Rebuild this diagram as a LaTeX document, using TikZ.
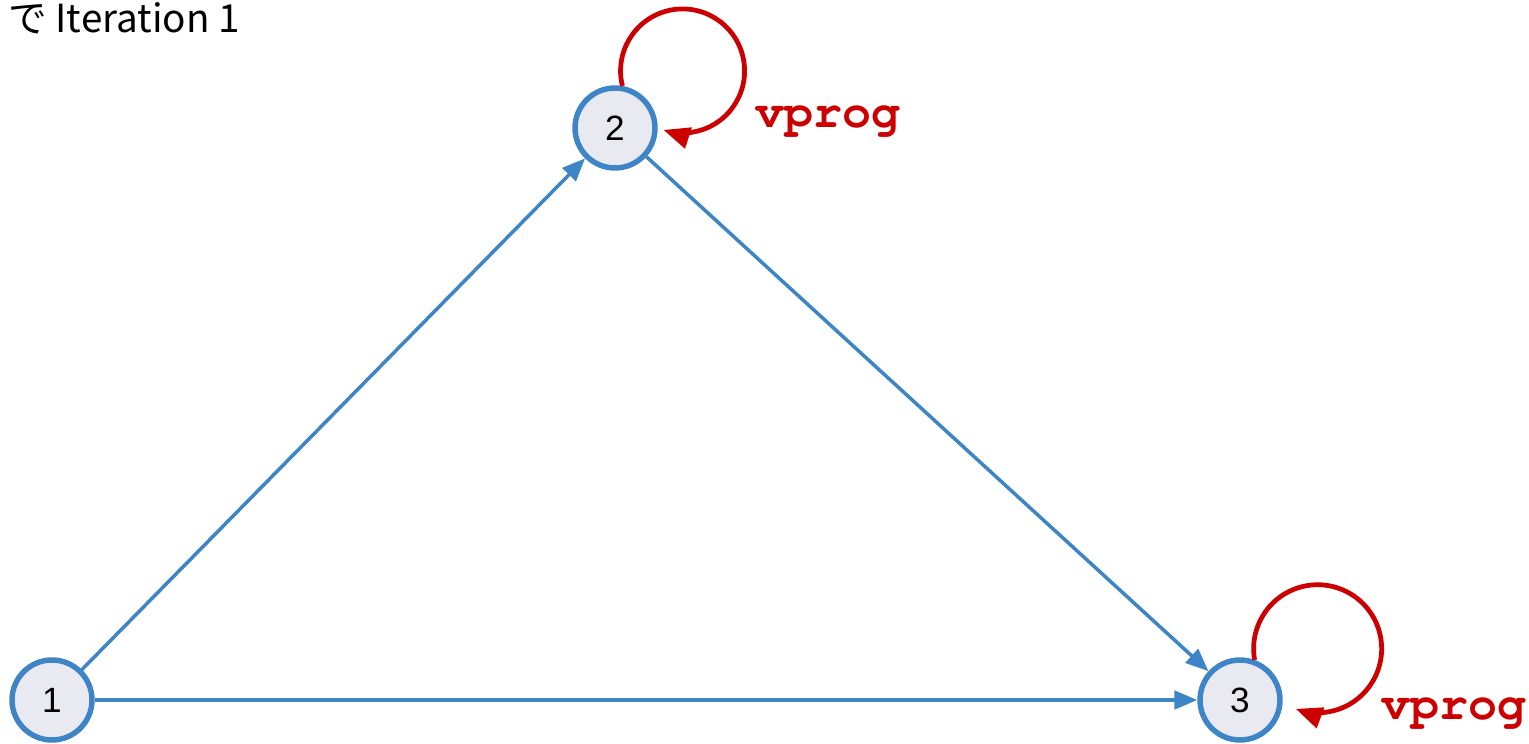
\documentclass[tikz,border=0pt]{standalone}
\usepackage[T1,TU]{fontenc}
\usepackage{fontspec}
\setmainfont{Liberation Sans}
\newfontfamily\jpfont{Noto Sans CJK JP}
\newcommand{\progfont}{\fontencoding{T1}\fontfamily{pcr}\fontseries{b}\selectfont}
\usetikzlibrary{positioning,arrows.meta}
\definecolor{vblue}{HTML}{3D85C6}
\definecolor{vfill}{HTML}{E8E9F1}
\definecolor{vred}{HTML}{CC0000}
\tikzset{
  vert/.style={circle,draw=vblue,line width=3.1pt,fill=vfill,minimum size=1.6cm,
               inner sep=0pt,font=\fontsize{20}{24}\selectfont},
  ln/.style={-{Triangle[length=13pt,width=10.5pt]},draw=vblue,line width=2pt},
  selfarc/.style={-{Triangle[length=15pt,width=12pt]},draw=vred,line width=2.7pt},
  prog/.style={text=vred,font=\progfont\fontsize{27.5}{30}\selectfont,
               inner sep=0pt,anchor=base west},
}

\begin{document}
\begin{tikzpicture}[x=0.02cm,y=0.02cm,
  ttl/.style={anchor=base west,inner sep=0pt,font=\jpfont\fontsize{22}{26}\selectfont}]

\useasboundingbox (0,0) rectangle (1529,744);

\node[ttl] (title) at (8,711) {で Iteration 1};

\node[vert] (n1) at (52,44) {1};
\node[vert] (n2) at (615,616) {2};
\node[vert] (n3) at (1240,44) {3};

\draw[ln] (n1) -- (n2);
\draw[ln] (n2) -- (n3);
\draw[ln] (n1) -- (n3);

% vprog on each vertex
\draw[selfarc] (n2.80) arc[start angle=194,end angle=-108,radius=62];
\draw[selfarc] (n3.70) arc[start angle=190,end angle=-110,radius=64];
\node[prog] (p2) at (755,616) {vprog};
\node[prog] (p3) at (1381,24) {vprog};

\end{tikzpicture}
\end{document}
